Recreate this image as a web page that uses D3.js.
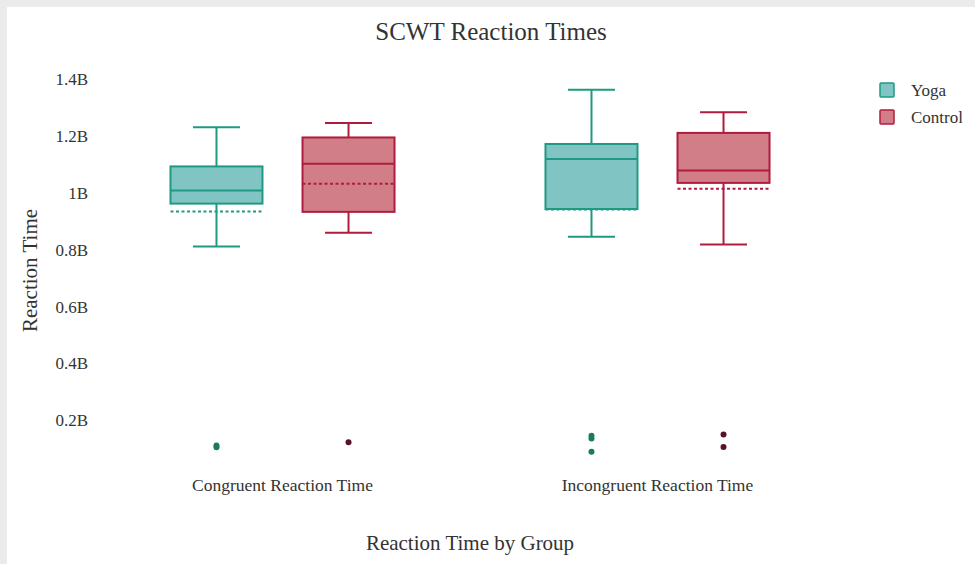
<!DOCTYPE html>
<html>
<head>
<meta charset="utf-8">
<script src="https://cdn.jsdelivr.net/npm/d3@7"></script>
<style>
  body { margin: 0; background: #fff; }
  svg { display: block; font-family: "Liberation Serif", "Times New Roman", serif; }
</style>
</head>
<body>
<svg id="chart"></svg>
<script>
// categories and groups
const categories = ["Congruent Reaction Time", "Incongruent Reaction Time"];
const groups = ["Yoga", "Control"];

// box statistics, one value per category
const yogaMin = [0.812e9, 0.846e9];
const yogaQ1 = [0.963e9, 0.944e9];
const yogaMedian = [1.009e9, 1.120e9];
const yogaQ3 = [1.094e9, 1.173e9];
const yogaMax = [1.232e9, 1.364e9];
const yogaMean = [0.935e9, 0.942e9];
const yogaOutliers = [[0.111e9, 0.105e9], [0.146e9, 0.136e9, 0.089e9]];

const controlMin = [0.860e9, 0.819e9];
const controlQ1 = [0.934e9, 1.036e9];
const controlMedian = [1.103e9, 1.080e9];
const controlQ3 = [1.196e9, 1.212e9];
const controlMax = [1.247e9, 1.285e9];
const controlMean = [1.033e9, 1.015e9];
const controlOutliers = [[0.1225e9], [0.1496e9, 0.1063e9]];

const yTicks = [0.2e9, 0.4e9, 0.6e9, 0.8e9, 1.0e9, 1.2e9, 1.4e9];
const yTickLabels = ["0.2B", "0.4B", "0.6B", "0.8B", "1B", "1.2B", "1.4B"];

const colors = {
    Yoga: { line: "#1f9a82", fill: "#80c5c4", dot: "#1b7a60" },
    Control: { line: "#b01c3d", fill: "#d17e88", dot: "#5a1228" }
};

const width = 975, height = 564;
const margin = {top: 71, right: 130, bottom: 94, left: 95};
const serif = "'Liberation Serif', 'Times New Roman', serif";

const svg = d3.select("#chart")
    .attr("width", width)
    .attr("height", height);

// light gray frame at the top and left edge
svg.append("rect").attr("x", 0).attr("y", 0).attr("width", width).attr("height", 7).attr("fill", "#ebebeb");
svg.append("rect").attr("x", 0).attr("y", 0).attr("width", 7).attr("height", height).attr("fill", "#ebebeb");

const xScale = d3.scaleBand()
    .domain(categories)
    .range([margin.left, width - margin.right]);

const groupScale = d3.scalePoint()
    .domain(groups)
    .range([0, xScale.bandwidth()])
    .padding(0.92);

const yScale = d3.scaleLinear()
    .domain([0.025e9, 1.43e9])
    .range([height - margin.bottom, margin.top]);

// build box records from the arrays
let boxes = [];
categories.forEach((cat, i) => {
    boxes.push({cat: cat, group: "Yoga", min: yogaMin[i], q1: yogaQ1[i], median: yogaMedian[i],
        q3: yogaQ3[i], max: yogaMax[i], mean: yogaMean[i], outliers: yogaOutliers[i]});
    boxes.push({cat: cat, group: "Control", min: controlMin[i], q1: controlQ1[i], median: controlMedian[i],
        q3: controlQ3[i], max: controlMax[i], mean: controlMean[i], outliers: controlOutliers[i]});
});

const boxWidth = 92;
const capWidth = 47;

const boxG = svg.append("g")
    .selectAll("g")
    .data(boxes)
    .join("g")
    .attr("transform", d => `translate(${xScale(d.cat) + groupScale(d.group)}, 0)`);

// whiskers
boxG.append("line")
    .attr("x1", 0).attr("x2", 0)
    .attr("y1", d => yScale(d.max)).attr("y2", d => yScale(d.q3))
    .attr("stroke", d => colors[d.group].line).attr("stroke-width", 2);
boxG.append("line")
    .attr("x1", 0).attr("x2", 0)
    .attr("y1", d => yScale(d.q1)).attr("y2", d => yScale(d.min))
    .attr("stroke", d => colors[d.group].line).attr("stroke-width", 2);
boxG.append("line")
    .attr("x1", -capWidth / 2).attr("x2", capWidth / 2)
    .attr("y1", d => yScale(d.max)).attr("y2", d => yScale(d.max))
    .attr("stroke", d => colors[d.group].line).attr("stroke-width", 2);
boxG.append("line")
    .attr("x1", -capWidth / 2).attr("x2", capWidth / 2)
    .attr("y1", d => yScale(d.min)).attr("y2", d => yScale(d.min))
    .attr("stroke", d => colors[d.group].line).attr("stroke-width", 2);

// box
boxG.append("rect")
    .attr("x", -boxWidth / 2)
    .attr("width", boxWidth)
    .attr("y", d => yScale(d.q3))
    .attr("height", d => yScale(d.q1) - yScale(d.q3))
    .attr("fill", d => colors[d.group].fill)
    .attr("stroke", d => colors[d.group].line)
    .attr("stroke-width", 2);

// median
boxG.append("line")
    .attr("x1", -boxWidth / 2).attr("x2", boxWidth / 2)
    .attr("y1", d => yScale(d.median)).attr("y2", d => yScale(d.median))
    .attr("stroke", d => colors[d.group].line).attr("stroke-width", 2);

// mean (dashed)
boxG.append("line")
    .attr("x1", -boxWidth / 2).attr("x2", boxWidth / 2)
    .attr("y1", d => yScale(d.mean)).attr("y2", d => yScale(d.mean))
    .attr("stroke", d => colors[d.group].line).attr("stroke-width", 2)
    .attr("stroke-dasharray", "3,2.5");

// outliers
boxG.selectAll("circle")
    .data(d => d.outliers.map(v => ({v: v, group: d.group})))
    .join("circle")
    .attr("cx", 0)
    .attr("cy", d => yScale(d.v))
    .attr("r", 3)
    .attr("fill", d => colors[d.group].dot);

// y axis labels
const yAxis = svg.append("g")
    .attr("transform", `translate(${margin.left - 4}, 0)`)
    .call(d3.axisLeft(yScale).tickValues(yTicks).tickFormat((d, i) => yTickLabels[i]).tickSize(0))
    .attr("font-family", serif)
    .attr("font-size", 17);
yAxis.select(".domain").remove();
yAxis.selectAll("text").attr("fill", "#333");

// x axis labels
const xAxis = svg.append("g")
    .attr("transform", `translate(0, ${height - margin.bottom})`)
    .call(d3.axisBottom(xScale).tickSize(0))
    .attr("font-family", serif)
    .attr("font-size", 17.5);
xAxis.select(".domain").remove();
xAxis.selectAll("text")
    .attr("dy", "1.05em")
    .attr("fill", "#333");

// titles
svg.append("text")
    .attr("x", 491).attr("y", 40)
    .attr("text-anchor", "middle")
    .attr("font-size", 25)
    .attr("fill", "#333")
    .text("SCWT Reaction Times");

svg.append("text")
    .attr("x", (margin.left + width - margin.right) / 2)
    .attr("y", 550)
    .attr("text-anchor", "middle")
    .attr("font-size", 21)
    .attr("fill", "#333")
    .text("Reaction Time by Group");

svg.append("text")
    .attr("transform", `translate(37, ${(margin.top + height - margin.bottom) / 2}) rotate(-90)`)
    .attr("text-anchor", "middle")
    .attr("font-size", 21)
    .attr("fill", "#333")
    .text("Reaction Time");

// legend
const legend = svg.append("g")
    .selectAll("g")
    .data(groups)
    .join("g")
    .attr("transform", (d, i) => `translate(880, ${90 + i * 27})`);
legend.append("rect")
    .attr("x", 0).attr("y", -7)
    .attr("width", 14).attr("height", 14)
    .attr("rx", 1)
    .attr("fill", d => colors[d].fill)
    .attr("stroke", d => colors[d].line)
    .attr("stroke-width", 1.5);
legend.append("text")
    .attr("x", 31).attr("y", 0)
    .attr("dy", "0.35em")
    .attr("font-size", 17)
    .attr("fill", "#333")
    .text(d => d);
</script>
</body>
</html>
